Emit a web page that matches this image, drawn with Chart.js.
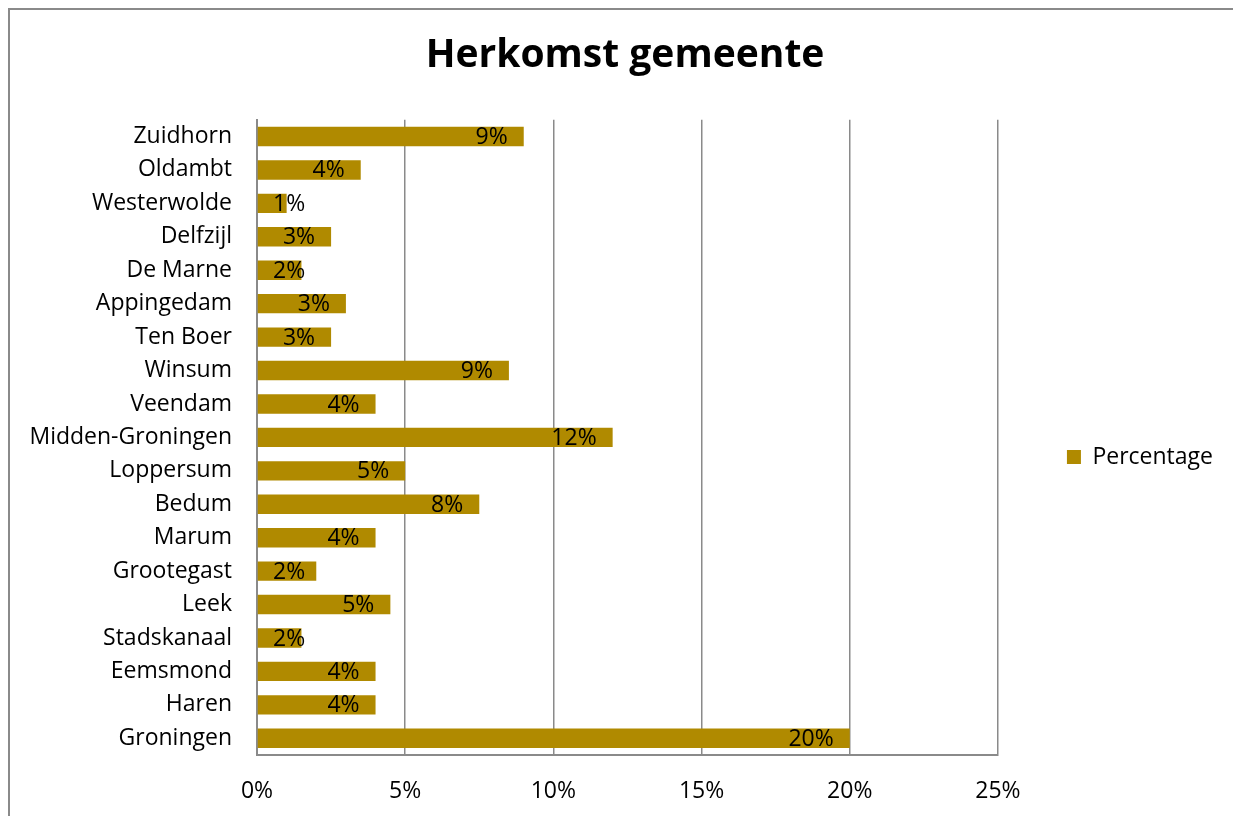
<!DOCTYPE html>
<html>
<head>
<meta charset="utf-8">
<script src="https://cdn.jsdelivr.net/npm/chart.js@4/dist/chart.umd.min.js"></script>
<style>
  html, body { margin: 0; padding: 0; background: #fff; }
  #wrap { position: absolute; left: 0; top: 0; width: 1233px; height: 816px; }
  #frame { position: absolute; left: 8px; top: 8px; width: 1240px; height: 820px; border-left: 2px solid #8a8a8a; border-top: 2px solid #8a8a8a; box-sizing: border-box; pointer-events: none; }
</style>
</head>
<body>
<div id="wrap"><canvas id="c" width="1233" height="816"></canvas></div>
<div id="frame"></div>
<script>
const chartTitle = "Herkomst gemeente";
const seriesName = "Percentage";
const categories = ["Zuidhorn","Oldambt","Westerwolde","Delfzijl","De Marne","Appingedam","Ten Boer","Winsum","Veendam","Midden-Groningen","Loppersum","Bedum","Marum","Grootegast","Leek","Stadskanaal","Eemsmond","Haren","Groningen"];
const percentages = [9.0, 3.5, 1.0, 2.5, 1.5, 3.0, 2.5, 8.5, 4.0, 12.0, 5.0, 7.5, 4.0, 2.0, 4.5, 1.5, 4.0, 4.0, 20.0];
const xTicks = [0, 5, 10, 15, 20, 25];

const FONT = "'Open Sans', Lato, sans-serif";
const BAR = "#b08a00";

const labelPlugin = {
  id: "insideEndLabels",
  afterDatasetsDraw(chart) {
    const ctx = chart.ctx;
    const meta = chart.getDatasetMeta(0);
    const x0 = chart.scales.x.getPixelForValue(0);
    ctx.save();
    ctx.font = "23px " + FONT;
    ctx.fillStyle = "#000";
    ctx.textBaseline = "middle";
    ctx.textAlign = "left";
    meta.data.forEach((bar, i) => {
      const txt = Math.round(percentages[i]) + "%";
      const w = ctx.measureText(txt).width;
      let left = bar.x - 16 - w;
      if (left < x0 + 16) left = x0 + 16;
      ctx.fillText(txt, left, bar.y + 1);
    });
    ctx.restore();
  }
};

new Chart(document.getElementById("c"), {
  type: "bar",
  data: {
    labels: categories,
    datasets: [{
      label: seriesName,
      data: percentages,
      backgroundColor: BAR,
      borderWidth: 0,
      barPercentage: 0.58,
      categoryPercentage: 1.0
    }]
  },
  options: {
    indexAxis: "y",
    responsive: false,
    animation: false,
    layout: { padding: { left: 27, right: 10, top: 0, bottom: 0 } },
    plugins: {
      title: {
        display: true,
        text: chartTitle,
        color: "#000",
        font: { family: FONT, size: 39, weight: "bold", lineHeight: 1.2 },
        padding: { top: 32, bottom: 41 }
      },
      legend: {
        display: true,
        position: "right",
        align: "center",
        title: { display: true, text: " ", font: { size: 20, lineHeight: 1.2 }, padding: 37 },
        labels: {
          boxWidth: 14, boxHeight: 14, padding: 69,
          color: "#000",
          font: { family: FONT, size: 23 }
        }
      },
      tooltip: { enabled: false }
    },
    scales: {
      x: {
        type: "linear",
        min: 0, max: 25,
        afterBuildTicks(scale) { scale.ticks = xTicks.map(v => ({ value: v })); },
        afterFit(scale) { scale.height = 61; },
        grid: { display: true, color: "#8a8a8a", lineWidth: 1.5, drawTicks: false },
        border: { display: true, color: "#8a8a8a", width: 2 },
        ticks: {
          color: "#000",
          padding: 23,
          font: { family: FONT, size: 23 },
          callback: v => v + "%"
        }
      },
      y: {
        afterFit(scale) { scale.width = 230; },
        grid: { display: false, drawTicks: false },
        border: { display: true, color: "#8a8a8a", width: 2 },
        ticks: {
          color: "#000",
          padding: 25,
          font: { family: FONT, size: 23 }
        }
      }
    }
  },
  plugins: [labelPlugin]
});
</script>
</body>
</html>
